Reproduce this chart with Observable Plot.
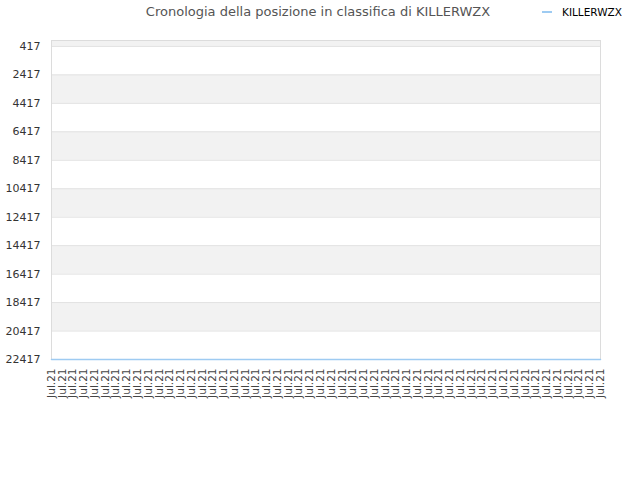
<!DOCTYPE html>
<html>
<head>
<meta charset="utf-8">
<script src="https://cdn.jsdelivr.net/npm/d3@7"></script>
<script src="https://cdn.jsdelivr.net/npm/@observablehq/plot@0.6"></script>
<style>
  body { margin: 0; background: #fff; font-family: "DejaVu Sans", sans-serif; }
  #wrap { position: relative; width: 640px; height: 480px; }
  #title { position: absolute; left: 0; width: 636px; top: 4px; text-align: center; font-size: 13px; color: #555; }
  #legend { position: absolute; left: 542px; top: 6px; font-size: 10.5px; color: #000; display: flex; align-items: center; }
  #legend .sw { display: inline-block; width: 10px; height: 2px; background: #9ecbf2; margin-right: 10px; }
</style>
</head>
<body>
<div id="wrap">
  <div id="chart"></div>
  <div id="title">Cronologia della posizione in classifica di KILLERWZX</div>
  <div id="legend"><span class="sw"></span>KILLERWZX</div>
</div>
<script>
const seriesName = "KILLERWZX";
const dateLabels = [
  "Jul.21","Jul.21","Jul.21","Jul.21","Jul.21","Jul.21","Jul.21","Jul.21","Jul.21","Jul.21",
  "Jul.21","Jul.21","Jul.21","Jul.21","Jul.21","Jul.21","Jul.21","Jul.21","Jul.21","Jul.21",
  "Jul.21","Jul.21","Jul.21","Jul.21","Jul.21","Jul.21","Jul.21","Jul.21","Jul.21","Jul.21",
  "Jul.21","Jul.21","Jul.21","Jul.21","Jul.21","Jul.21","Jul.21","Jul.21","Jul.21","Jul.21",
  "Jul.21","Jul.21","Jul.21","Jul.21","Jul.21","Jul.21","Jul.21","Jul.21","Jul.21","Jul.21",
  "Jul.21","Jul.21"
];
const positions = [
  22417,22417,22417,22417,22417,22417,22417,22417,22417,22417,
  22417,22417,22417,22417,22417,22417,22417,22417,22417,22417,
  22417,22417,22417,22417,22417,22417,22417,22417,22417,22417,
  22417,22417,22417,22417,22417,22417,22417,22417,22417,22417,
  22417,22417,22417,22417,22417,22417,22417,22417,22417,22417,
  22417,22417
];
const yTicks = [417, 2417, 4417, 6417, 8417, 10417, 12417, 14417, 16417, 18417, 20417, 22417];
const yDomain = [0, 22417];

const data = positions.map((v, i) => ({i, v}));
const idx = dateLabels.map((_, i) => i);

// alternating bands: the top strip above the first tick, then every other interval
const bands = [{y1: yDomain[0], y2: yTicks[0]}];
for (let k = 1; k + 1 < yTicks.length; k += 2) bands.push({y1: yTicks[k], y2: yTicks[k + 1]});

const chart = Plot.plot({
  width: 640,
  height: 480,
  marginLeft: 51,
  marginRight: 40,
  marginTop: 40,
  marginBottom: 121,
  style: {fontFamily: "DejaVu Sans, sans-serif", fontSize: "11px", color: "#333", background: "#fff"},
  x: {type: "point", domain: idx, padding: 0, axis: null, label: null},
  y: {domain: yDomain, reverse: true, axis: null, label: null},
  marks: [
    Plot.rect(bands, {x1: () => 0, x2: () => idx.length - 1, y1: "y1", y2: "y2", fill: "#f2f2f2"}),
    Plot.ruleY(yTicks, {stroke: "#e2e2e2"}),
    Plot.frame({stroke: "#dcdcdc"}),
    Plot.axisY({ticks: yTicks, tickSize: 0, tickPadding: 11, tickFormat: d => String(d), fontSize: 11, fill: "#333", label: null}),
    Plot.axisX({ticks: idx, tickSize: 0, tickPadding: 9, tickRotate: -90, tickFormat: i => dateLabels[i], fontSize: 10.5, fill: "#444", label: null}),
    Plot.line(data, {x: "i", y: "v", stroke: "#9ecbf2", strokeWidth: 1.5})
  ]
});
document.getElementById("chart").appendChild(chart);
</script>
</body>
</html>
